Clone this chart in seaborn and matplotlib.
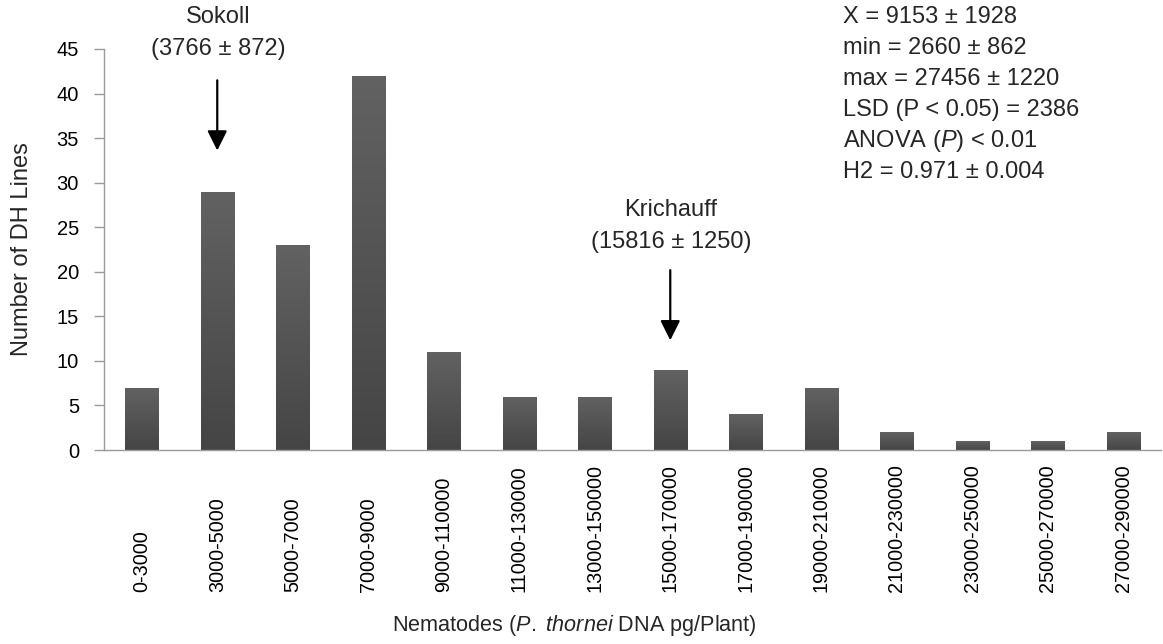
import numpy as np
import pandas as pd
import matplotlib
matplotlib.use("Agg")
import matplotlib.pyplot as plt
import seaborn as sns
from matplotlib.colors import LinearSegmentedColormap

categories = ["0-3000", "3000-5000", "5000-7000", "7000-9000", "9000-110000",
              "11000-130000", "13000-150000", "15000-170000", "17000-190000",
              "19000-210000", "21000-230000", "23000-250000", "25000-270000",
              "27000-290000"]
counts = [7, 29, 23, 42, 11, 6, 6, 9, 4, 7, 2, 1, 1, 2]
y_ticks = [0, 5, 10, 15, 20, 25, 30, 35, 40, 45]
stats_lines = ["X = 9153 ± 1928", "min = 2660 ± 862", "max = 27456 ± 1220",
               "LSD (P < 0.05) = 2386", "ANOVA ($\\it{P}$) < 0.01", "H2 = 0.971 ± 0.004"]
sokoll_label = ["Sokoll", "(3766 ± 872)"]
krich_label = ["Krichauff", "(15816 ± 1250)"]

sns.set_theme(style="white")
plt.rcParams['font.family'] = ['Liberation Sans', 'DejaVu Sans']
plt.rcParams['mathtext.fontset'] = 'custom'
plt.rcParams['mathtext.it'] = 'Liberation Sans:italic'
plt.rcParams['mathtext.rm'] = 'Liberation Sans'

fig = plt.figure(figsize=(11.63, 6.44), dpi=100)
ax = fig.add_axes([104/1163, 1-450/644, (1161-104)/1163, (450-49)/644])

df = pd.DataFrame({"cat": categories, "n": counts})
sns.barplot(data=df, x="cat", y="n", color="#555555", saturation=1, width=0.44, ax=ax)

# gradient fill of bars
cmap = LinearSegmentedColormap.from_list("g", ["#454545", "#626262"])
grad = np.linspace(0, 1, 256).reshape(-1, 1)
for p in list(ax.patches):
    x0, y0 = p.get_x(), p.get_y()
    w, h = p.get_width(), p.get_height()
    im = ax.imshow(grad, cmap=cmap, origin="lower", aspect="auto",
                   extent=[x0, x0 + w, y0, y0 + h], zorder=p.get_zorder() + 0.1)
    im.set_clip_path(p)
ax.set_xlim(-0.5, len(categories) - 0.5)
ax.set_ylim(0, 45)
ax.set_yticks(y_ticks)

for s in ["top", "right"]:
    ax.spines[s].set_visible(False)
for s in ["left", "bottom"]:
    ax.spines[s].set_color("#9a9a9a")
    ax.spines[s].set_linewidth(1.0)

ax.tick_params(axis="y", which="major", left=True, length=7, width=1.0,
               color="#9a9a9a", labelsize=14.5, pad=11, labelcolor="black")
ax.tick_params(axis="x", bottom=False, labelsize=14.3, pad=96, labelcolor="black")
ax.set_xticks(range(len(categories)))
ax.set_xticklabels(categories, rotation=90, va="bottom", ha="center")

ax.set_xlabel("Nematodes ($\\it{P.}$ $\\it{thornei}$ DNA pg/Plant)", fontsize=15.6)
ax.set_ylabel("Number of DH Lines", fontsize=17)
ax.xaxis.label.set_va("center")
ax.yaxis.label.set_va("center")
ax.xaxis.set_label_coords(0.4447, -(625 - 450) / 401)
ax.yaxis.set_label_coords(-(104 - 22) / 1057, 0.5)

# annotations with arrows
ax.annotate("", xy=(1, 33.3), xytext=(1, 41.8),
            arrowprops=dict(arrowstyle="-|>,head_length=1.0,head_width=0.5", color="black", lw=1.6))
ax.annotate("", xy=(7, 12.0), xytext=(7, 20.5),
            arrowprops=dict(arrowstyle="-|>,head_length=1.0,head_width=0.5", color="black", lw=1.6))

fig.text(218/1163, 1-17/644, sokoll_label[0], ha="center", va="center", fontsize=17)
fig.text(218/1163, 1-49/644, sokoll_label[1], ha="center", va="center", fontsize=17)
fig.text(671/1163, 1-210/644, krich_label[0], ha="center", va="center", fontsize=17)
fig.text(671/1163, 1-242/644, krich_label[1], ha="center", va="center", fontsize=17)

for i, line in enumerate(stats_lines):
    fig.text(843/1163, 1-(17 + 31*i)/644, line, ha="left", va="center", fontsize=17)

fig.savefig("out.png", dpi=100)
